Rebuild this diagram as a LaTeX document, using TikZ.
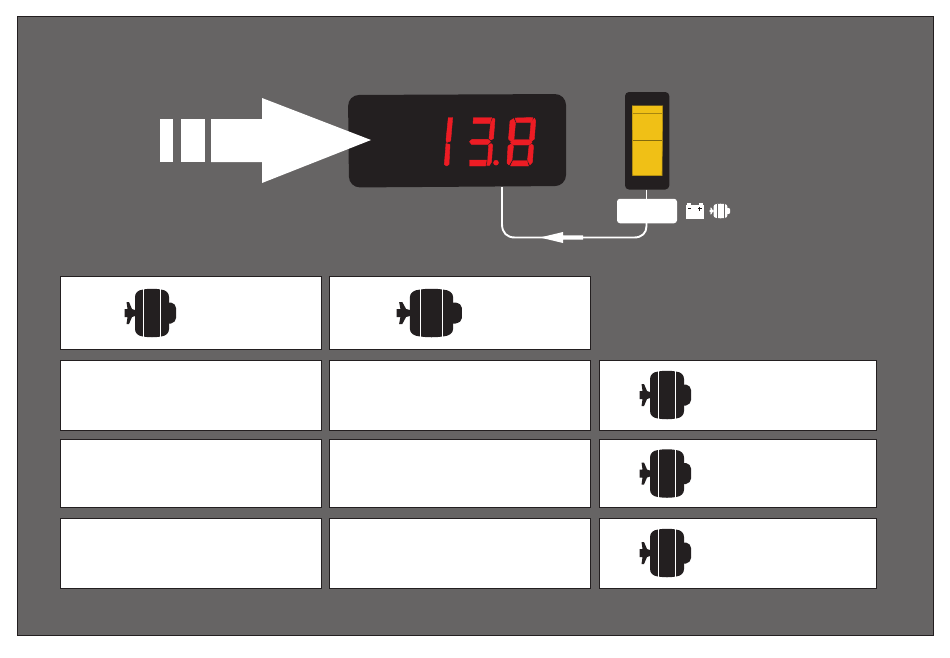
\documentclass[tikz,border=0pt]{standalone}
\usetikzlibrary{arrows.meta}
\definecolor{panelgrey}{HTML}{666464}
\definecolor{inkdark}{HTML}{231F20}
\definecolor{segred}{HTML}{ED1C24}
\definecolor{switchyellow}{HTML}{F0C016}
\tikzset{
  x=1pt,y=-1pt,
  infobox/.style={draw=inkdark,line width=0.8pt,fill=white,inner sep=0pt,outer sep=0pt,anchor=north west},
  wire/.style={draw=white,line width=1.9pt},
  seg/.style={fill=segred,draw=segred,line width=0.4pt,line join=round},
}
% [body colour] centre x, centre y, x scale, y scale, stripe colour
\newcommand{\motoricon}[6][inkdark]{%
 \begin{scope}[shift={(#2,#3)},xscale=#4,yscale=#5]
  \fill[#1] (-25.5,-11) -- (-23,-11) -- (-20,-4) -- (-17,-3) -- (-17,3) -- (-20,4) -- (-23,11) -- (-25.5,11) -- (-24.5,4) -- (-27.5,4) -- (-27.5,-4) -- (-24.5,-4) -- cycle;
  \fill[#1] (16,-10.5) -- (19,-10.5) .. controls (22,-9.5) and (24,-8) .. (24,-5) -- (24,5) .. controls (24,8) and (22,9.5) .. (19,10.5) -- (16,10.5) -- cycle;
  \fill[#1] (-17,-16) .. controls (-17,-20) and (-14,-23) .. (-9,-23.5)
     .. controls (-3,-24.5) and (3,-24.5) .. (9,-23.5)
     .. controls (14,-23) and (17,-20) .. (17,-16)
     -- (17,16) .. controls (17,20) and (14,23) .. (9,23.5)
     .. controls (3,24.5) and (-3,24.5) .. (-9,23.5)
     .. controls (-14,23) and (-17,20) .. (-17,16) -- cycle;
  \fill[#6] (-9.4,-25) rectangle (-8.4,25);
  \fill[#6] (8.4,-25) rectangle (9.4,25);
 \end{scope}}
\begin{document}
\begin{tikzpicture}
\useasboundingbox (0,0) rectangle (950,657);
\fill[white] (0,0) rectangle (950,657);
\node[infobox,fill=panelgrey,line width=1pt,minimum width=916pt,minimum height=619pt] (panel) at (17,16) {};
% boxes
\node[infobox,minimum width=261.5pt,minimum height=73pt] (a1) at (60,276) {};
\node[infobox,minimum width=261.5pt,minimum height=73pt] (a2) at (329,276) {};
\node[infobox,minimum width=261.5pt,minimum height=70.5pt] (b1) at (60,360) {};
\node[infobox,minimum width=261.5pt,minimum height=70.5pt] (b2) at (329,360) {};
\node[infobox,minimum width=277.5pt,minimum height=70.5pt] (b3) at (599,360) {};
\node[infobox,minimum width=261.5pt,minimum height=68.5pt] (c1) at (60,439) {};
\node[infobox,minimum width=261.5pt,minimum height=68.5pt] (c2) at (329,439) {};
\node[infobox,minimum width=277.5pt,minimum height=68.5pt] (c3) at (599,439) {};
\node[infobox,minimum width=261.5pt,minimum height=70pt] (d1) at (60,518) {};
\node[infobox,minimum width=261.5pt,minimum height=70pt] (d2) at (329,518) {};
\node[infobox,minimum width=277.5pt,minimum height=70pt] (d3) at (599,518) {};
\motoricon{152}{313}{1}{1}{white}
\motoricon{431.5}{313}{1.27}{1}{white}
\motoricon{667}{395}{1}{1}{white}
\motoricon{667}{473.5}{1}{1}{white}
\motoricon{667}{553}{1}{1}{white}
% display
\fill[inkdark,rounded corners=11pt] (348,95) -- (566,94) -- (566,186) -- (349,187.5) -- cycle;
\coordinate (dispout) at (502,187);
% big arrow
\fill[white] (159.5,119) rectangle (173,162);
\fill[white] (181,119) rectangle (205,162);
\fill[white] (211,119) -- (262,119) -- (262,98) -- (371,140) -- (262,183) -- (262,162) -- (211,162) -- cycle;
% digit 1
\fill[seg] (448.3,117.5) -- (452.7,117.5) -- (450.7,141) -- (446.7,142.5) -- (446,140) -- cycle;
\fill[seg] (446,143.5) -- (450,144.5) -- (449,164.5) -- (446.7,166) -- (444.3,164.5) -- cycle;
% digit 3
\fill[seg] (473.5,117.5) -- (491.7,117.5) -- (490,123.5) -- (473,123.5) -- cycle;
\fill[seg] (493,118) -- (495,119) -- (493.5,138.5) -- (491,140) -- (489,138.5) -- (490.5,123.5) -- cycle;
\fill[seg] (469.5,141.7) -- (472,139.3) -- (488,139.3) -- (490.5,141.7) -- (488,144.3) -- (471.5,144.3) -- cycle;
\fill[seg] (491,143.5) -- (492.7,145) -- (491.5,162) -- (489.5,165.3) -- (486.7,165.5) -- (487.7,160) -- (488.7,145) -- cycle;
\fill[seg] (469.5,160) -- (486.5,160) -- (485.5,166) -- (469.5,166) -- cycle;
\fill[seg] (496,162.7) circle (2.5);
% digit 8
\fill[seg] (515,118) -- (533,117.5) -- (531.5,122.5) -- (516.5,122.5) -- cycle;
\fill[seg] (513.5,118.5) -- (515.5,123) -- (514,139) -- (511,141.5) -- (508.5,139) -- (510,121) -- cycle;
\fill[seg] (534.5,118) -- (535.7,121) -- (534.3,139) -- (531.5,141.5) -- (529.5,139) -- (531,122.5) -- cycle;
\fill[seg] (510.5,142.5) -- (513.5,139.7) -- (529.5,139.7) -- (532,142.5) -- (529,145) -- (513,145) -- cycle;
\fill[seg] (511,144) -- (513.5,146) -- (512,160) -- (509,165) -- (507,163) -- (508,146) -- cycle;
\fill[seg] (531.5,144) -- (533.5,146) -- (532.5,162) -- (530,165) -- (527.5,160) -- (529,146) -- cycle;
\fill[seg] (513,160.7) -- (527,160.7) -- (528.5,166) -- (510.5,166) -- cycle;
% switch
\fill[inkdark,rounded corners=4pt] (625,92) rectangle (669.3,189.5);
\fill[switchyellow] (632,105.5) -- (662.7,105.5) -- (662,175.5) -- (632.5,175.5) -- cycle;
\draw[draw=switchyellow!70!black,line width=0.8pt] (632.5,113) -- (662.5,113);
\draw[draw=switchyellow!55!black,line width=0.6pt] (632,140) -- (662.5,140);
\draw[draw=switchyellow!75!black,line width=0.6pt] (632.3,105.5) -- (632.7,175.5) -- (662,175.5) -- (662.7,105.5);
\coordinate (swout) at (646.5,189.5);
% relay box
\node[fill=white,rounded corners=3pt,inner sep=0pt,outer sep=0pt,minimum width=60pt,minimum height=24.5pt] (relay) at (647,211) {};
\draw[wire] (swout) -- (swout |- relay.north);
% wire
\coordinate (relayout) at (646.5,223);
\draw[wire] (relayout) -- (646.5,226) .. controls (646.5,233) and (642,237.5) .. (634,237.5) -- (515,237.5) .. controls (507,237.5) and (502,233) .. (502,224) -- (dispout);
\fill[white] (583,235.3) -- (563,235.3) -- (563,232) -- (540,237.5) -- (563,243) -- (563,239.7) -- (583,239.7) -- cycle;
% battery
\fill[white] (685.7,205) rectangle (704,219);
\fill[white] (687,203.3) rectangle (691,204.6);
\fill[white] (699,203.3) rectangle (703,204.6);
\fill[inkdark] (688,208.3) rectangle (690.5,209);
\fill[inkdark] (698,208.3) rectangle (701.5,209);
\fill[inkdark] (699.4,206.8) rectangle (700.1,210.6);
% small motor icon
\motoricon[white]{720.5}{211}{0.4}{0.3}{panelgrey}
\end{tikzpicture}
\end{document}
